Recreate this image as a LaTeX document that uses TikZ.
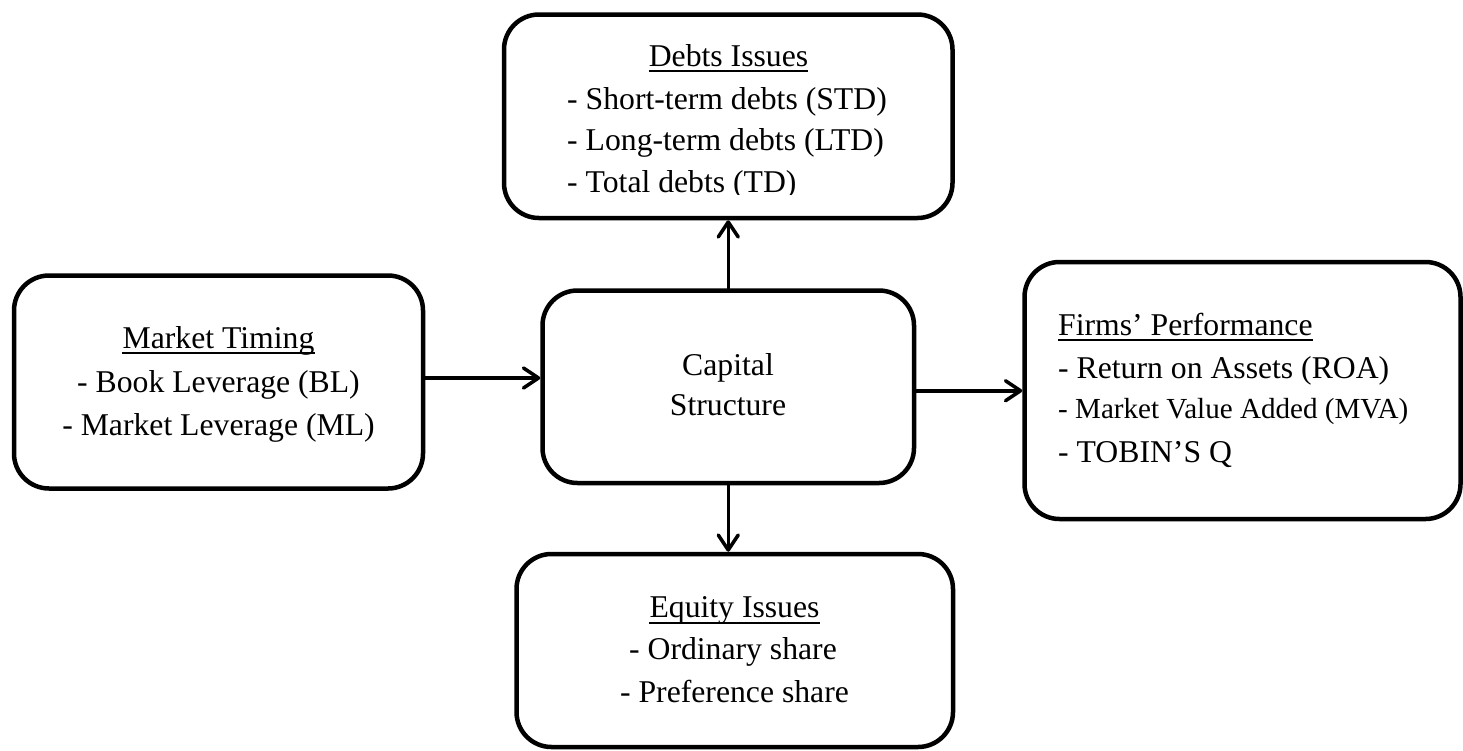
\documentclass[tikz,border=0pt]{standalone}
\usepackage{fontspec}
\setmainfont{Liberation Serif}
\usetikzlibrary{arrows.meta}
\begin{document}
\begin{tikzpicture}[x=1pt,y=-1pt,
  box/.style={draw, line width=4.5pt, rounded corners=35pt, inner sep=0pt, outer sep=2.25pt},
  txt/.style={inner sep=0pt, anchor=base, font=\fontsize{31.7pt}{38pt}\selectfont},
  txtl/.style={txt, anchor=base west},
  small/.style={font=\fontsize{29.1pt}{36pt}\selectfont},
  ul/.style={line width=2pt},
  arr/.style={line width=3.5pt, line cap=round, line join=round, -{Straight Barb[length=15pt,width=20pt,round]}}]
\useasboundingbox (0,0) rectangle (1463,750);
% boxes
\node[box, minimum width=448.5pt, minimum height=203.5pt] (debts) at (728.25,116.25) {};
\node[box, minimum width=409pt, minimum height=213pt] (market) at (218.5,382) {};
\node[box, minimum width=371.5pt, minimum height=192.5pt] (center) at (728.25,386.75) {};
\node[box, minimum width=436pt, minimum height=257pt] (firms) at (1242.5,390.5) {};
\node[box, minimum width=436.5pt, minimum height=193pt] (equity) at (734.75,650.5) {};
% debts text
\node[txt] (dh) at (728.5,66) {Debts Issues};
\draw[ul] ([yshift=-5pt]dh.base west) -- ([yshift=-5pt]dh.base east);
\node[txtl] (d1) at (567,109) {- Short-term debts (STD)};
\node[txtl] (d2) at (567,150) {- Long-term debts (LTD)};
\begin{scope}
\clip (500,20) rectangle (960,194.5);
\node[txtl] (d3) at (567,192) {- Total debts (TD)};
\end{scope}
% market text
\node[txt] (mh) at (218.5,348.6) {Market Timing};
\draw[ul] ([yshift=-4.5pt]mh.base west) -- ([yshift=-4.5pt]mh.base east);
\node[txt] (m1) at (218.5,392) {- Book Leverage (BL)};
\node[txt] (m2) at (218.5,435.7) {- Market Leverage (ML)};
% center text
\node[txt] (c1) at (728,375) {Capital};
\node[txt] (c2) at (728,415) {Structure};
% firms text
\node[txtl] (fh) at (1058,335) {Firms’ Performance};
\draw[ul] ([yshift=-4.5pt]fh.base west) -- ([yshift=-4.5pt]fh.base east);
\node[txtl] (f1) at (1058,378) {- Return on Assets (ROA)};
\node[txtl, small] (f2) at (1058,418) {- Market Value Added (MVA)};
\node[txtl] (f3) at (1058,462) {- TOBIN’S Q};
% equity text
\node[txt] (eh) at (734.5,617) {Equity Issues};
\draw[ul] ([yshift=-5.5pt]eh.base west) -- ([yshift=-5.5pt]eh.base east);
\node[txt] (e1) at (733,659) {- Ordinary share};
\node[txt] (e2) at (734.5,702) {- Preference share};
% arrows
\draw[arr] ([yshift=4pt]market.east) -- ([yshift=4pt]market.east -| center.west);
\draw[arr] ([yshift=-4pt]center.east) -- ([yshift=-4pt]center.east -| firms.west);
\draw[arr] (center.north) -- (center.north |- debts.south);
\draw[arr] (center.south) -- (center.south |- equity.north);
\end{tikzpicture}
\end{document}
